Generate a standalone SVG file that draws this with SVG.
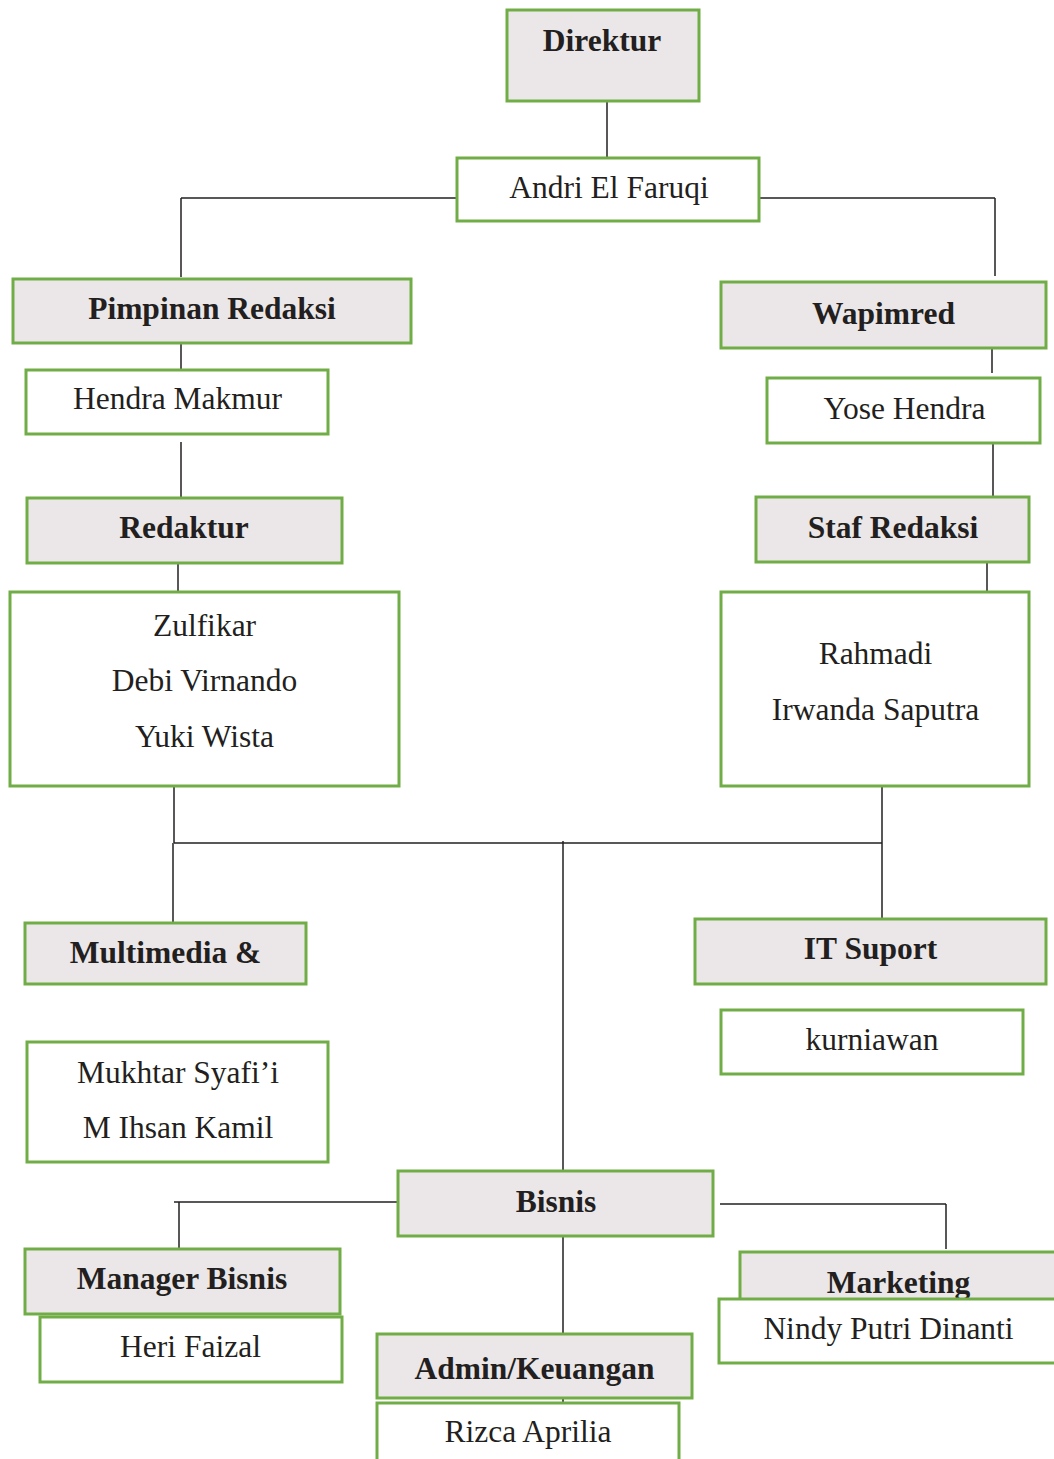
<svg xmlns="http://www.w3.org/2000/svg" width="1054" height="1459" viewBox="0 0 1054 1459">
<style>
.h rect{fill:#ebe7e8;stroke:#70ad47;stroke-width:3}
.n rect{fill:#ffffff;stroke:#70ad47;stroke-width:3}
text{font-family:"Liberation Serif","Times New Roman",serif;font-size:31.5px;fill:#231f20;text-anchor:middle}
.h text{font-weight:bold}
#connectors line{stroke:#231f20;stroke-width:1.5;fill:none}
</style>
<rect width="1054" height="1459" fill="#ffffff"/>
<g id="connectors">
<line x1="607" y1="101" x2="607" y2="158"/>
<line x1="457" y1="198" x2="181" y2="198"/>
<line x1="181" y1="198" x2="181" y2="277"/>
<line x1="759" y1="198" x2="995" y2="198"/>
<line x1="995" y1="198" x2="995" y2="276"/>
<line x1="181" y1="343" x2="181" y2="370"/>
<line x1="181" y1="442" x2="181" y2="498"/>
<line x1="178" y1="563" x2="178" y2="592"/>
<line x1="992" y1="348" x2="992" y2="373"/>
<line x1="993" y1="443" x2="993" y2="497"/>
<line x1="987" y1="562" x2="987" y2="592"/>
<line x1="174" y1="786" x2="174" y2="843"/>
<line x1="174" y1="843" x2="882" y2="843"/>
<line x1="173" y1="843" x2="173" y2="922"/>
<line x1="563" y1="841" x2="563" y2="1171"/>
<line x1="882" y1="786" x2="882" y2="919"/>
<line x1="398" y1="1202" x2="174" y2="1202"/>
<line x1="179" y1="1202" x2="179" y2="1248"/>
<line x1="720" y1="1204" x2="946" y2="1204"/>
<line x1="946" y1="1204" x2="946" y2="1249"/>
<line x1="563" y1="1236" x2="563" y2="1334"/>
<line x1="563" y1="1398" x2="563" y2="1403"/>
</g>
<g id="direktur" class="h"><rect x="507" y="10" width="192" height="91"/><text x="602" y="51">Direktur</text></g>
<g id="andri" class="n"><rect x="457" y="158" width="302" height="63"/><text x="609" y="198">Andri El Faruqi</text></g>
<g id="pimpinan" class="h"><rect x="13" y="279" width="398" height="64"/><text x="212" y="319">Pimpinan Redaksi</text></g>
<g id="hendra" class="n"><rect x="26" y="370" width="302" height="64"/><text x="177.5" y="409">Hendra Makmur</text></g>
<g id="redaktur" class="h"><rect x="27" y="498" width="315" height="65"/><text x="184" y="538">Redaktur</text></g>
<g id="redaktur-staff" class="n"><rect x="10" y="592" width="389" height="194"/><text x="204.5" y="636">Zulfikar</text><text x="204.5" y="691">Debi Virnando</text><text x="204.5" y="747">Yuki Wista</text></g>
<g id="wapimred" class="h"><rect x="721" y="282" width="325" height="66"/><text x="883.5" y="324">Wapimred</text></g>
<g id="yose" class="n"><rect x="767" y="378" width="273" height="65"/><text x="904.5" y="419">Yose Hendra</text></g>
<g id="staf" class="h"><rect x="756" y="497" width="273" height="65"/><text x="893" y="538">Staf Redaksi</text></g>
<g id="staf-staff" class="n"><rect x="721" y="592" width="308" height="194"/><text x="875.5" y="664">Rahmadi</text><text x="875.5" y="720">Irwanda Saputra</text></g>
<g id="multimedia" class="h"><rect x="25" y="923" width="281" height="61"/><text x="165.5" y="963">Multimedia &amp;</text></g>
<g id="itsuport" class="h"><rect x="695" y="919" width="351" height="65"/><text x="870.5" y="959">IT Suport</text></g>
<g id="kurniawan" class="n"><rect x="721" y="1010" width="302" height="64"/><text x="872" y="1050">kurniawan</text></g>
<g id="multimedia-staff" class="n"><rect x="27" y="1042" width="301" height="120"/><text x="178" y="1083">Mukhtar Syafi’i</text><text x="178" y="1138">M Ihsan Kamil</text></g>
<g id="bisnis" class="h"><rect x="398" y="1171" width="315" height="65"/><text x="556" y="1212">Bisnis</text></g>
<g id="manager" class="h"><rect x="25" y="1249" width="315" height="65"/><text x="182" y="1289">Manager Bisnis</text></g>
<g id="heri" class="n"><rect x="40" y="1317" width="302" height="65"/><text x="190.5" y="1357">Heri Faizal</text></g>
<g id="admin" class="h"><rect x="377" y="1334" width="315" height="64"/><text x="534.5" y="1379">Admin/Keuangan</text></g>
<g id="rizca" class="n"><rect x="377" y="1403" width="302" height="70"/><text x="528" y="1442">Rizca Aprilia</text></g>
<g id="marketing" class="h"><rect x="740" y="1252" width="320" height="60"/><text x="898.5" y="1293">Marketing</text></g>
<g id="nindy" class="n"><rect x="719" y="1299" width="341" height="64"/><text x="888.5" y="1339">Nindy Putri Dinanti</text></g>
</svg>
